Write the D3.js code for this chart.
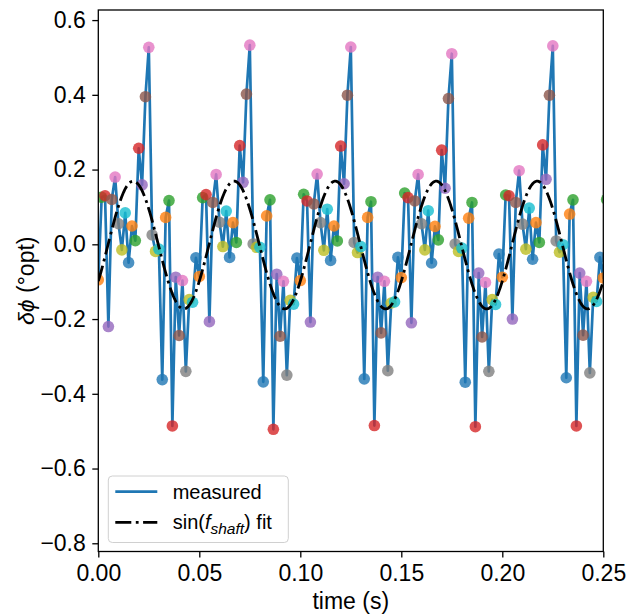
<!DOCTYPE html>
<html>
<head>
    <meta charset="utf-8">
    <title>Shaft phase</title>
    <script src="https://d3js.org/d3.v7.min.js"></script>
    <style>
        body { margin: 0; background: #fff; }
        text { font-family: "Liberation Sans", Arial, sans-serif; fill: #000; }
    </style>
</head>

<body>
<div id="chart"></div>
<script type="text/javascript">
    // measured phase, sampled at 600 Hz, one array per 0.05 s shaft turn
    const sampleRate = 600;
    const turn1 = [-0.095, 0.126, 0.13, -0.22, 0.12, 0.18, 0.055, -0.015, 0.084, -0.049,
                   0.049, 0.01, 0.257, 0.159, 0.395, 0.527, 0.025, -0.019, -0.013, -0.362,
                   0.072, 0.117, -0.486, -0.088, -0.244, -0.097, -0.34, -0.148, -0.155, -0.036];
    const turn2 = [-0.086, 0.125, 0.133, -0.207, 0.112, 0.187, 0.059, -0.006, 0.089, -0.035,
                   0.058, 0.005, 0.264, 0.166, 0.402, 0.533, 0.001, -0.008, -0.008, -0.368,
                   0.076, 0.119, -0.495, -0.08, -0.246, -0.099, -0.35, -0.15, -0.16, -0.037];
    const turn3 = [-0.097, 0.134, 0.116, -0.208, 0.108, 0.188, 0.058, -0.016, 0.094, -0.043,
                   0.049, 0.009, 0.263, 0.162, 0.399, 0.528, 0.005, -0.022, -0.006, -0.36,
                   0.072, 0.114, -0.485, -0.088, -0.237, -0.099, -0.338, -0.157, -0.154, -0.035];
    const turn4 = [-0.089, 0.137, 0.125, -0.21, 0.116, 0.187, 0.055, -0.015, 0.09, -0.05,
                   0.048, 0.012, 0.252, 0.15, 0.39, 0.51, 0.001, -0.019, -0.01, -0.369,
                   0.07, 0.112, -0.488, -0.077, -0.248, -0.102, -0.34, -0.148, -0.161, -0.026];
    const turn5 = [-0.088, 0.132, 0.13, -0.2, 0.112, 0.197, 0.054, -0.013, 0.097, -0.04,
                   0.058, 0.005, 0.266, 0.174, 0.399, 0.531, 0.009, -0.021, -0.001, -0.357,
                   0.081, 0.119, -0.486, -0.077, -0.243, -0.099, -0.344, -0.142, -0.153, -0.035];
    const tail = [-0.09, 0.12];

    // sin(f_shaft) fit
    const fitAmp = 0.171;
    const fitFreq = 20;
    const fitPhase = -0.6;
    const fitOffset = -0.002;

    const xTicks = [0, 0.05, 0.10, 0.15, 0.20, 0.25];
    const yTicks = [-0.8, -0.6, -0.4, -0.2, 0.0, 0.2, 0.4, 0.6];
    const tab10 = ["#1f77b4", "#ff7f0e", "#2ca02c", "#d62728", "#9467bd",
                   "#8c564b", "#e377c2", "#7f7f7f", "#bcbd22", "#17becf"];

    const W = 631, H = 616;
    const m = {left: 98.3, top: 10, right: 631 - 603.3, bottom: 616 - 551.5};
    const iw = W - m.left - m.right, ih = H - m.top - m.bottom;

    const values = [].concat(turn1, turn2, turn3, turn4, turn5, tail);
    const data = values.map((v, i) => ({t: i / sampleRate, v: v, c: tab10[(i + 1) % 10]}));
    const fit = d3.range(0, 0.2505, 0.0005).map(t => ({t: t,
        v: fitOffset + fitAmp * Math.sin(2 * Math.PI * fitFreq * t + fitPhase)}));

    const x = d3.scaleLinear().domain([0, 0.25]).range([0, iw]);
    const y = d3.scaleLinear().domain([-0.822, 0.627]).range([ih, 0]);

    const svg = d3.select("#chart").append("svg")
        .attr("width", W).attr("height", H);
    svg.append("defs").append("clipPath").attr("id", "clip")
        .append("rect").attr("width", iw).attr("height", ih);

    const g = svg.append("g").attr("transform", `translate(${m.left},${m.top})`);
    const plot = g.append("g").attr("clip-path", "url(#clip)");

    const line = d3.line().x(d => x(d.t)).y(d => y(d.v));

    plot.append("path").datum(data)
        .attr("d", line)
        .attr("fill", "none")
        .attr("stroke", "#1f77b4")
        .attr("stroke-width", 2.7)
        .attr("stroke-linejoin", "round");

    plot.selectAll("circle").data(data).enter().append("circle")
        .attr("cx", d => x(d.t))
        .attr("cy", d => y(d.v))
        .attr("r", 5.8)
        .attr("fill", d => d.c)
        .attr("fill-opacity", 0.8);

    plot.append("path").datum(fit)
        .attr("d", line)
        .attr("fill", "none")
        .attr("stroke", "#000")
        .attr("stroke-width", 2.8)
        .attr("stroke-dasharray", "16,4.5,2.8,4.5");

    // axes
    const fmtY = v => d3.format(".1f")(v).replace("-", "\u2212");
    const xAxis = g.append("g").attr("transform", `translate(0,${ih})`)
        .call(d3.axisBottom(x).tickValues(xTicks).tickFormat(d3.format(".2f"))
            .tickSize(6).tickPadding(7));
    const yAxis = g.append("g")
        .call(d3.axisLeft(y).tickValues(yTicks).tickFormat(fmtY)
            .tickSize(6).tickPadding(6.5));
    [xAxis, yAxis].forEach(a => {
        a.select(".domain").remove();
        a.selectAll("line").attr("stroke", "#000").attr("stroke-width", 1.3);
        a.selectAll("text").attr("font-size", 23).attr("fill", "#000")
            .style("font-family", "'Liberation Sans', Arial, sans-serif");
    });
    g.append("rect").attr("width", iw).attr("height", ih)
        .attr("fill", "none").attr("stroke", "#000").attr("stroke-width", 1.3);

    g.append("text")
        .attr("x", iw / 2).attr("y", 609 - m.top)
        .attr("text-anchor", "middle").attr("font-size", 23)
        .text("time (s)");

    const yl = svg.append("text")
        .attr("transform", `translate(34,${m.top + ih / 2}) rotate(-90)`)
        .attr("text-anchor", "middle").attr("font-size", 23);
    yl.append("tspan").attr("font-style", "italic").text("\u03b4\u03d5");
    yl.append("tspan").text(" (\u00b0opt)");

    // legend
    const lg = svg.append("g").attr("transform", "translate(108.3,476)");
    lg.append("rect").attr("width", 180).attr("height", 66.5).attr("rx", 4)
        .attr("fill", "#fff").attr("fill-opacity", 0.8)
        .attr("stroke", "#d0d0d0").attr("stroke-width", 1);
    lg.append("line").attr("x1", 7).attr("x2", 49).attr("y1", 15.7).attr("y2", 15.7)
        .attr("stroke", "#1f77b4").attr("stroke-width", 2.7);
    lg.append("line").attr("x1", 7).attr("x2", 49).attr("y1", 46.3).attr("y2", 46.3)
        .attr("stroke", "#000").attr("stroke-width", 2.8)
        .attr("stroke-dasharray", "16,4.5,2.8,4.5");
    lg.append("text").attr("x", 64.4).attr("y", 22.7).attr("font-size", 20).text("measured");
    const lt = lg.append("text").attr("x", 64.4).attr("y", 53.3).attr("font-size", 20);
    lt.append("tspan").text("sin(");
    lt.append("tspan").attr("font-style", "italic").text("f");
    lt.append("tspan").attr("font-style", "italic").attr("font-size", 15.5).attr("dy", 4.5).text("shaft");
    lt.append("tspan").attr("dy", -4.5).text(")");
    lt.append("tspan").text(" fit");
</script>
</body>
</html>
